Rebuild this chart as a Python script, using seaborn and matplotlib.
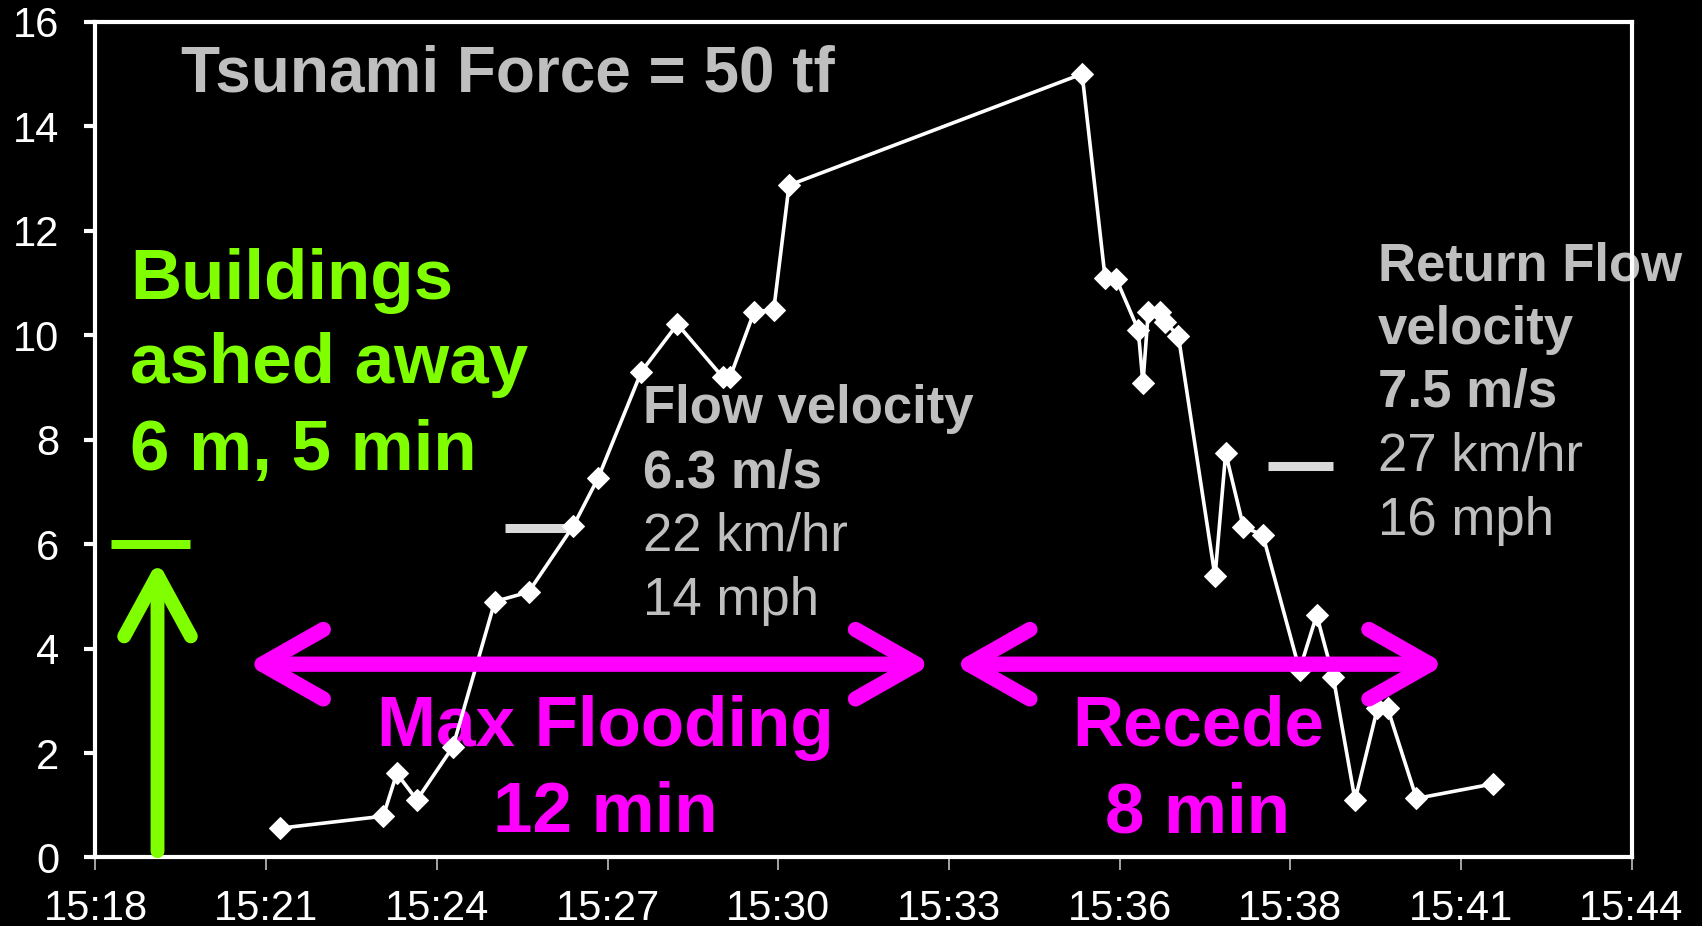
import matplotlib
matplotlib.use("Agg")
import matplotlib.pyplot as plt
import seaborn as sns
import pandas as pd

# Inundation depth (m) recorded during the tsunami; time in minutes after 15:00
minute = [21.12, 22.87, 23.10, 23.44, 24.05, 24.76, 25.33, 26.09, 26.51, 27.24,
          27.85, 28.62, 28.74, 29.15, 29.48, 29.74, 34.70, 35.09, 35.28, 35.65,
          35.73, 35.82, 36.02, 36.10, 36.33, 36.95, 37.13, 37.43, 37.76, 38.38,
          38.67, 38.95, 39.32, 39.70, 39.87, 40.36, 41.66]
depth = [0.56, 0.79, 1.61, 1.10, 2.12, 4.90, 5.08, 6.35, 7.27, 9.30,
         10.21, 9.19, 9.19, 10.45, 10.48, 12.87, 15.00, 11.09, 11.07, 10.10,
         9.08, 10.45, 10.45, 10.26, 9.98, 5.38, 7.74, 6.33, 6.17, 3.59,
         4.64, 3.46, 1.10, 2.86, 2.86, 1.13, 1.41]

x_tick_labels = ["15:18", "15:21", "15:24", "15:27", "15:30",
                 "15:33", "15:36", "15:38", "15:41", "15:44"]
y_ticks = [0, 2, 4, 6, 8, 10, 12, 14, 16]

# Reference levels
building_depth = 6.0       # m, depth at which buildings were washed away
flow_velocity = 6.3        # m/s, incoming flow
return_velocity = 7.5      # m/s, return flow

# Periods (minutes after 15:00)
flood_span = (20.56, 32.16)
recede_span = (32.52, 40.85)

WHITE = "white"
GREY = "#BFBFBF"
DASH = "#D9D9D9"
GREEN = "#80FF00"
MAGENTA = "#FF00FF"

sns.set_theme(style="dark", rc={
    "axes.facecolor": "black",
    "figure.facecolor": "black",
    "savefig.facecolor": "black",
    "axes.edgecolor": WHITE,
    "axes.linewidth": 3,
    "axes.grid": False,
    "xtick.color": WHITE,
    "ytick.color": WHITE,
})
plt.rcParams["font.family"] = ["Liberation Sans", "DejaVu Sans"]

fig = plt.figure(figsize=(17.02, 9.26), dpi=100)
ax = fig.add_axes([0.0561, 0.074, 0.9025, 0.9026])

df = pd.DataFrame({"minute": minute, "depth": depth})

# annotation layer below the data line
ax.text(19.45, 14.98, "Tsunami Force = 50 tf", color=GREY, fontsize=46,
        fontweight="bold", ha="left", va="center", zorder=2)

for txt, yb in zip(["Buildings", "ashed away", "6 m, 5 min"], [10.70, 9.08, 7.42]):
    ax.text(18.59, yb, txt, color=GREEN, fontsize=51, fontweight="bold",
            ha="left", va="baseline", zorder=2)

flow_lines = [("Flow velocity", "bold"), (f"{flow_velocity} m/s", "bold"),
              ("22 km/hr", "normal"), ("14 mph", "normal")]
for (txt, wt), yb in zip(flow_lines, [8.31, 7.08, 5.88, 4.65]):
    ax.text(27.26, yb, txt, color=GREY, fontsize=38, fontweight=wt,
            ha="left", va="baseline", zorder=2)

ret_lines = [("Return Flow", "bold"), ("velocity", "bold"),
             (f"{return_velocity} m/s", "bold"), ("27 km/hr", "normal"),
             ("16 mph", "normal")]
for (txt, wt), yb in zip(ret_lines, [11.05, 9.83, 8.62, 7.40, 6.17]):
    ax.text(39.71, yb, txt, color=GREY, fontsize=38, fontweight=wt,
            ha="left", va="baseline", zorder=2)

for txt, yb in zip(["Max Flooding", "12 min"], [2.14, 0.48]):
    ax.text(26.63, yb, txt, color=MAGENTA, fontsize=51, fontweight="bold",
            ha="center", va="baseline", zorder=2)
for txt, yb in zip(["Recede", "8 min"], [2.14, 0.48]):
    ax.text(36.66, yb, txt, color=MAGENTA, fontsize=51, fontweight="bold",
            ha="center", va="baseline", zorder=2)

# depth series
sns.lineplot(data=df, x="minute", y="depth", ax=ax, color=WHITE, lw=2.6,
             marker="D", markersize=11, markeredgecolor=WHITE,
             markerfacecolor=WHITE, sort=False, estimator=None, zorder=4)

# level markers
ax.plot([18.26, 19.60], [building_depth] * 2, color=GREEN, lw=6.5,
        solid_capstyle="butt", zorder=5)
ax.plot([24.93, 26.07], [flow_velocity] * 2, color=DASH, lw=6.5,
        solid_capstyle="butt", zorder=3)
ax.plot([37.84, 38.94], [return_velocity] * 2, color=DASH, lw=6.5,
        solid_capstyle="butt", zorder=3)

# green rising arrow
ax.annotate("", xy=(19.05, 5.68), xytext=(19.05, 0.12),
            arrowprops=dict(arrowstyle="->,head_length=44,head_width=24",
                            mutation_scale=1, lw=10, color=GREEN,
                            capstyle="round", joinstyle="round",
                            shrinkA=0, shrinkB=0), zorder=5)

# period arrows
for x0, x1 in (flood_span, recede_span):
    ax.annotate("", xy=(x1, 3.70), xytext=(x0, 3.70),
                arrowprops=dict(arrowstyle="<->,head_length=44,head_width=25",
                                mutation_scale=1, lw=11, color=MAGENTA,
                                capstyle="round", joinstyle="round",
                                shrinkA=0, shrinkB=0), zorder=6)

ax.set_xlim(18, 44)
ax.set_ylim(0, 16)
x_ticks = [18 + i * 26 / 9 for i in range(len(x_tick_labels))]
ax.set_xticks(x_ticks)
ax.set_xticklabels(x_tick_labels)
ax.set_yticks(y_ticks)
ax.set_yticklabels([str(v) for v in y_ticks])
ax.tick_params(axis="x", colors=GREY, width=1.2, length=9, pad=14,
               labelcolor=WHITE, labelsize=30, direction="out", bottom=True)
ax.tick_params(axis="y", colors=WHITE, width=3, length=8, pad=18,
               labelcolor=WHITE, labelsize=30, direction="out", left=True)
ax.set_xlabel("")
ax.set_ylabel("")
for side in ("top", "right", "left", "bottom"):
    ax.spines[side].set_visible(True)
    ax.spines[side].set_color(WHITE)
    ax.spines[side].set_linewidth(3)

fig.savefig("out.png", dpi=100, facecolor="black")
